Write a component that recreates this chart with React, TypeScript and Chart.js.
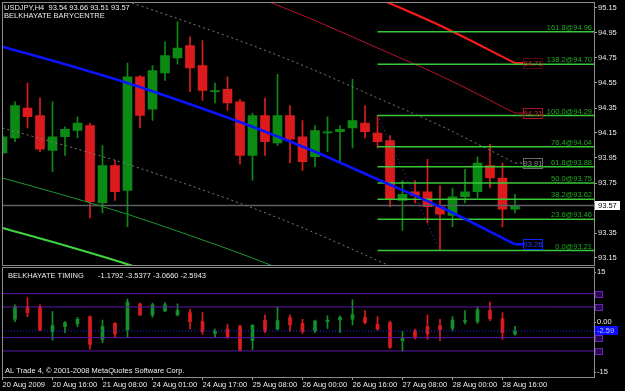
import React, { useEffect, useRef } from "react";
import { Chart, registerables } from "chart.js";
Chart.register(...registerables);

// ---------------- data ----------------
const SYMBOL = "USDJPY,H4";
const MAIN_TITLE = "BELKHAYATE BARYCENTRE";
const OSC_TITLE = "BELKHAYATE TIMING";
const COPYRIGHT = "AL Trade 4, \u00a9 2001-2008 MetaQuotes Software Corp.";

// H4 candles, bar index 0..41
const OPEN = [93.99, 94.11, 94.35, 94.29, 94.01, 94.12, 94.17, 94.21, 93.59, 93.89, 93.69, 94.6, 94.34, 94.63, 94.75, 94.85, 94.69, 94.48, 94.5, 94.4, 93.97, 94.29, 94.07, 94.29, 94.12, 93.96, 94.15, 94.16, 94.19, 94.23, 94.15, 94.09, 93.61, 93.68, 93.68, 93.56, 93.49, 93.64, 93.68, 93.89, 93.79, 93.54];
const HIGH = [94.14, 94.4, 94.55, 94.43, 94.4, 94.2, 94.28, 94.23, 94.05, 93.93, 94.71, 94.61, 94.69, 94.88, 95.04, 94.92, 94.89, 94.55, 94.6, 94.42, 94.31, 94.43, 94.62, 94.37, 94.25, 94.21, 94.28, 94.21, 94.58, 94.37, 94.29, 94.13, 93.77, 93.77, 93.94, 93.73, 93.71, 93.86, 93.96, 94.06, 93.91, 93.66];
const LOW = [93.97, 94.08, 94.19, 94.0, 93.84, 93.97, 94.11, 93.47, 93.51, 93.61, 93.4, 94.19, 94.25, 94.57, 94.7, 94.48, 94.41, 94.39, 94.33, 93.9, 93.77, 93.97, 94.05, 93.91, 93.85, 93.88, 94.0, 93.91, 94.03, 94.11, 94.03, 93.56, 93.37, 93.59, 93.43, 93.21, 93.4, 93.59, 93.63, 93.71, 93.4, 93.51];
const CLOSE = [94.12, 94.37, 94.28, 94.02, 94.12, 94.18, 94.23, 93.6, 93.89, 93.68, 94.6, 94.29, 94.65, 94.77, 94.83, 94.67, 94.49, 94.49, 94.39, 93.97, 94.29, 94.08, 94.29, 94.1, 93.92, 94.17, 94.16, 94.18, 94.25, 94.16, 94.08, 93.62, 93.66, 93.65, 93.56, 93.5, 93.64, 93.68, 93.91, 93.79, 93.54, 93.57];

// barycentre and its bands, read at these bar indices
const BAND_INDEX = [0, 5, 10, 15, 20, 25, 30, 35, 41];
const BARYCENTRE = [94.84, 94.7, 94.55, 94.38, 94.2, 94.0, 93.78, 93.56, 93.26];
const UPPER_1 = [95.49, 95.35, 95.2, 95.03, 94.85, 94.65, 94.43, 94.21, 93.91];
const LOWER_1 = [94.19, 94.05, 93.9, 93.73, 93.55, 93.35, 93.13, 92.91, 92.61];
const UPPER_2 = [95.89, 95.75, 95.6, 95.43, 95.25, 95.05, 94.83, 94.61, 94.31];
const LOWER_2 = [93.79, 93.65, 93.5, 93.33, 93.15, 92.95, 92.73, 92.51, 92.21];
const UPPER_3 = [96.29, 96.15, 96.0, 95.83, 95.65, 95.45, 95.23, 95.01, 94.71];
const LOWER_3 = [93.39, 93.25, 93.1, 92.93, 92.75, 92.55, 92.33, 92.11, 91.81];

// Fibonacci retracement
const FIB_RATIOS = [0.0, 23.6, 38.2, 50.0, 61.8, 76.4, 100.0, 138.2, 161.8];
const FIB_PRICES = [93.21, 93.46, 93.62, 93.75, 93.88, 94.04, 94.29, 94.7, 94.96];
const FIB_HIGH_INDEX = 30;
const FIB_LOW_INDEX = 35;

const PRICE_TICKS = [95.15, 94.95, 94.75, 94.55, 94.35, 94.15, 93.95, 93.75, 93.55, 93.35, 93.15];

// Belkhayate timing oscillator, bar index 1..41
const OSC_FIRST_INDEX = 1;
const OSC_OPEN = [0.91, 4.73, 4.73, -2.82, -1.31, -0.5, 1.71, -5.14, -0.3, -2.32, 5.44, 2.22, 3.42, 2.22, 2.92, 0.2, -3.32, -2.01, -1.11, -5.54, 0.5, -2.01, 1.41, -0.3, -2.62, 0.2, 0.7, 0.91, 1.51, -0.6, -0.1, -5.54, -2.62, -1.31, -1.01, -1.81, 0.0, 0.2, 3.52, 1.01, -3.54];
const OSC_HIGH = [5.24, 7.45, 5.24, 3.22, 0.2, 1.51, 1.91, 0.7, -0.1, 6.95, 5.74, 5.74, 5.94, 5.54, 3.93, 2.92, -2.01, -0.5, -0.91, -0.81, 2.22, 4.53, 2.22, 0.91, 0.7, 1.91, 1.91, 6.75, 3.52, 1.71, 0.4, -2.82, -2.01, 2.22, 0.91, 1.71, 3.52, 4.53, 6.04, 2.92, -1.18];
const OSC_LOW = [0.2, 1.71, -2.62, -5.34, -3.12, -1.31, -8.06, -6.14, -4.53, -4.63, 2.01, 1.51, 3.22, 1.91, -2.01, -3.63, -4.53, -4.83, -8.66, -8.16, -3.12, -2.32, -2.82, -3.32, -3.12, -1.81, -3.02, -0.81, -0.5, -2.52, -7.85, -8.66, -5.04, -5.14, -5.54, -2.62, -0.5, -0.3, 0.5, -5.14, -3.83];
const OSC_CLOSE = [4.73, 2.92, -2.32, -1.01, -0.1, 0.91, -6.65, -1.31, -3.52, 6.04, 2.22, 5.24, 5.24, 3.52, 0.2, -2.82, -2.62, -4.33, -8.36, -0.81, -2.62, 0.5, -0.81, -2.82, 0.4, 0.6, 1.51, 2.22, -0.1, -2.01, -7.55, -4.83, -4.53, -3.52, -2.32, 0.7, 0.7, 3.73, 1.01, -3.12, -2.59];
const OSC_LEVELS = [8.6, 4.6, -4.6, -8.6];
const OSC_TICKS = [15, 0, -15];
const TIMING_VALUES = [-1.1792, -3.5377, -3.066, -2.5943];

const DATE_TICK_INDEX = [0, 4, 8, 12, 16, 20, 24, 28, 32, 36, 40];
const DATE_LABELS = ["20 Aug 2009", "20 Aug 16:00", "21 Aug 08:00", "24 Aug 01:00", "24 Aug 17:00", "25 Aug 08:00", "26 Aug 00:00", "26 Aug 16:00", "27 Aug 08:00", "28 Aug 00:00", "28 Aug 16:00"];

// ---------------- layout / style ----------------
const X_MIN = -0.04;
const X_MAX = 47.32;
const PRICE_MIN = 93.09;
const PRICE_MAX = 95.198;
const OSC_MIN = -16.41;
const OSC_MAX = 16.44;
const BAND_LABEL_X = 41.65;
const FONT = '"Liberation Sans", Arial, sans-serif';
const FS = 7.5;
const TXT = "#ececec";
const FRAME = "#8c8c8c";
const UP = "#0b8a14";
const DOWN = "#dc1c1c";

function candleSets(xs: number[], o: number[], h: number[], l: number[], c: number[], bodyW: number, up: string, down: string, order: number) {
  const col = o.map((v, i) => (c[i] >= v ? up : down));
  return [
    {
      type: "bar", data: xs.map((x, i) => ({ x, y: [Math.min(o[i], c[i]), Math.max(o[i], c[i])] })),
      backgroundColor: col, barThickness: bodyW, grouped: false, minBarLength: 1, borderWidth: 0, order,
    },
    {
      type: "bar", data: xs.map((x, i) => ({ x, y: [l[i], h[i]] })),
      backgroundColor: col, barThickness: 1, grouped: false, borderWidth: 0, order: order + 1,
    },
  ];
}

function lineSet(xs: number[], ys: number[], color: string, width: number, order: number, dash: number[] = [], smooth = true) {
  return {
    type: "line", data: xs.map((x, i) => ({ x, y: ys[i] })), borderColor: color, borderWidth: width,
    borderDash: dash, pointRadius: 0, fill: false, order,
    cubicInterpolationMode: smooth ? "monotone" : "default", tension: 0,
  };
}

const BANDS = [
  { v: UPPER_3, line: "#ff1a1a", w: 2, dash: [] as number[], box: "#a0102a", txt: "#e02828", boxDash: [1, 1] },
  { v: UPPER_2, line: "#b8102e", w: 1, dash: [] as number[], box: "#b0102a", txt: "#d02030", boxDash: [] as number[] },
  { v: UPPER_1, line: "#7a7a7a", w: 1, dash: [2, 3], box: "#6a6a6a", txt: "#8a8a8a", boxDash: [] as number[] },
  { v: LOWER_1, line: "#7a7a7a", w: 1, dash: [2, 3], box: null, txt: "", boxDash: [] as number[] },
  { v: LOWER_2, line: "#1e9632", w: 1, dash: [] as number[], box: null, txt: "", boxDash: [] as number[] },
  { v: LOWER_3, line: "#3fd43f", w: 2, dash: [] as number[], box: null, txt: "", boxDash: [] as number[] },
];

function curveWithTail(ys: number[], color: string, width: number, order: number, dash: number[] = []) {
  const lastX = BAND_INDEX[BAND_INDEX.length - 1];
  const lastY = ys[ys.length - 1];
  return [
    lineSet(BAND_INDEX, ys, color, width, order, dash, true),
    lineSet([lastX, BAND_LABEL_X], [lastY, lastY], color, width, order, dash, false),
  ];
}

function mainConfig(): any {
  const idx = OPEN.map((_, i) => i);
  const datasets: any[] = [];
  datasets.push(...curveWithTail(BARYCENTRE, "#0a14ff", 2.5, 1));
  FIB_PRICES.forEach((p) => datasets.push(lineSet([FIB_HIGH_INDEX, X_MAX], [p, p], "#38c838", 1.6, 2, [], false)));
  datasets.push(lineSet([FIB_HIGH_INDEX, FIB_LOW_INDEX], [FIB_PRICES[6], FIB_PRICES[0]], "#3548b0", 1, 2, [1, 3], false));
  BANDS.forEach((b) => datasets.push(...curveWithTail(b.v, b.line, b.w, 3, b.dash)));
  const last = CLOSE[CLOSE.length - 1];
  datasets.push(lineSet([X_MIN, X_MAX], [last, last], "#5e5e66", 1.5, 4, [], false));
  datasets.push(...candleSets(idx, OPEN, HIGH, LOW, CLOSE, 9, UP, DOWN, 5));

  const overlay = {
    id: "mainOverlay",
    afterDraw(chart: any) {
      const { ctx, chartArea: a, scales } = chart;
      const x = scales.x, y = scales.y;
      ctx.save();
      ctx.strokeStyle = FRAME; ctx.lineWidth = 1;
      const L = Math.floor(a.left) + 0.5, T = Math.floor(a.top) + 0.5, R = Math.floor(a.right) + 0.5, B = Math.floor(a.bottom) + 0.5;
      ctx.strokeRect(L, T, R - L, B - T);
      ctx.font = `${FS}px ${FONT}`;
      // fib labels
      ctx.fillStyle = "#22a822"; ctx.textAlign = "right"; ctx.textBaseline = "alphabetic";
      FIB_PRICES.forEach((p, i) => {
        ctx.fillText(`${FIB_RATIOS[i].toFixed(1)}@${p.toFixed(2)}`, a.right - 2, y.getPixelForValue(p) - 2);
      });
      // band value boxes
      const bx = x.getPixelForValue(BAND_LABEL_X);
      const boxes = [
        ...BANDS.filter((b) => b.box).map((b) => ({ v: b.v[b.v.length - 1], box: b.box as string, txt: b.txt, dash: b.boxDash })),
        { v: BARYCENTRE[BARYCENTRE.length - 1], box: "#1020ff", txt: "#2a3aff", dash: [] as number[] },
      ];
      ctx.textAlign = "center"; ctx.textBaseline = "middle";
      boxes.forEach((b) => {
        const py = y.getPixelForValue(b.v);
        const top = Math.round(py - 5) + 0.5;
        ctx.setLineDash(b.dash); ctx.strokeStyle = b.box; ctx.lineWidth = 1;
        ctx.strokeRect(Math.round(bx) + 0.5, top, 19, 10);
        ctx.setLineDash([]);
        ctx.fillStyle = b.txt;
        ctx.fillText(b.v.toFixed(2), Math.round(bx) + 10, py + 0.5);
      });
      // current price box
      const lp = CLOSE[CLOSE.length - 1];
      const py = y.getPixelForValue(lp);
      ctx.fillStyle = "#ffffff";
      ctx.fillRect(Math.round(a.right) + 1, Math.round(py - 4.5), 25, 9);
      ctx.fillStyle = "#000000"; ctx.textAlign = "left";
      ctx.fillText(lp.toFixed(2), Math.round(a.right) + 4, py + 0.5);
      // header
      const n = OPEN.length - 1;
      ctx.fillStyle = TXT; ctx.textAlign = "left"; ctx.textBaseline = "middle";
      ctx.fillText(`${SYMBOL}  ${OPEN[n].toFixed(2)} ${HIGH[n].toFixed(2)} ${LOW[n].toFixed(2)} ${CLOSE[n].toFixed(2)}`, 4, 7.5);
      ctx.fillText(MAIN_TITLE, 4, 16);
      ctx.restore();
    },
  };

  return {
    type: "line",
    data: { datasets },
    plugins: [overlay],
    options: {
      responsive: false, animation: false, devicePixelRatio: 1,
      layout: { padding: { left: 2, top: 2, right: 0, bottom: 0.5 } },
      plugins: { legend: { display: false }, tooltip: { enabled: false } },
      scales: {
        x: { type: "linear", min: X_MIN, max: X_MAX, display: false, offset: false },
        y: {
          type: "linear", position: "right", min: PRICE_MIN, max: PRICE_MAX,
          afterBuildTicks: (s: any) => { s.ticks = PRICE_TICKS.map((v) => ({ value: v })); },
          afterFit: (s: any) => { s.width = 31; s.paddingTop = 0; s.paddingBottom = 0; },
          ticks: { color: TXT, font: { family: FONT, size: FS }, padding: 1, callback: (v: any) => Number(v).toFixed(2) },
          grid: { drawOnChartArea: false, tickLength: 3, color: "#a0a0a0" },
          border: { display: false },
        },
      },
    },
  };
}

function oscConfig(): any {
  const idx = OSC_OPEN.map((_, i) => OSC_FIRST_INDEX + i);
  const datasets: any[] = [];
  const cur = OSC_CLOSE[OSC_CLOSE.length - 1];
  datasets.push(lineSet([X_MIN, X_MAX], [cur, cur], "#1a28ff", 1, 1, [1, 2], false));
  OSC_LEVELS.forEach((v) => datasets.push(lineSet([X_MIN, X_MAX], [v, v], "#5e1aa6", 1, 2, [], false)));
  datasets.push(...candleSets(idx, OSC_OPEN, OSC_HIGH, OSC_LOW, OSC_CLOSE, 3, "#14902a", "#dc1c1c", 5));

  const overlay = {
    id: "oscOverlay",
    afterDraw(chart: any) {
      const { ctx, chartArea: a, scales } = chart;
      const y = scales.y;
      ctx.save();
      ctx.strokeStyle = FRAME; ctx.lineWidth = 1;
      const L = Math.floor(a.left) + 0.5, T = Math.floor(a.top) + 0.5, R = Math.floor(a.right) + 0.5, B = Math.floor(a.bottom) + 0.5;
      ctx.strokeRect(L, T, R - L, B - T);
      // level markers on the scale
      OSC_LEVELS.forEach((v) => {
        const py = y.getPixelForValue(v);
        ctx.fillStyle = "#2a0650"; ctx.strokeStyle = "#6a22b0";
        ctx.fillRect(Math.round(a.right) + 1, Math.round(py - 3), 8, 7);
        ctx.strokeRect(Math.round(a.right) + 1.5, Math.round(py - 3) + 0.5, 7, 6);
      });
      ctx.font = `${FS}px ${FONT}`;
      const py = y.getPixelForValue(cur);
      ctx.fillStyle = "#0c0cff";
      ctx.fillRect(Math.round(a.right) + 1, Math.round(py - 4.5), 23, 9);
      ctx.fillStyle = "#c8c8ff"; ctx.textAlign = "left"; ctx.textBaseline = "middle";
      ctx.fillText(cur.toFixed(2), Math.round(a.right) + 3, py + 0.5);
      // titles
      ctx.fillStyle = TXT;
      ctx.fillText(OSC_TITLE, 8, 9.5);
      ctx.fillText(TIMING_VALUES.map((v) => v.toFixed(4)).join(" "), 98, 9.5);
      ctx.fillText(COPYRIGHT, 5, 105);
      ctx.restore();
    },
  };

  return {
    type: "line",
    data: { datasets },
    plugins: [overlay],
    options: {
      responsive: false, animation: false, devicePixelRatio: 1,
      layout: { padding: { left: 2, top: 1.5, right: 0, bottom: 0 } },
      plugins: { legend: { display: false }, tooltip: { enabled: false } },
      scales: {
        x: {
          type: "linear", min: X_MIN, max: X_MAX, offset: false, position: "bottom",
          afterBuildTicks: (s: any) => { s.ticks = DATE_TICK_INDEX.map((v) => ({ value: v })); },
          afterFit: (s: any) => { s.height = 14; s.paddingLeft = 0; s.paddingRight = 0; },
          ticks: {
            align: "start", autoSkip: false, maxRotation: 0, minRotation: 0, padding: 0,
            color: TXT, font: { family: FONT, size: FS }, callback: (_v: any, i: number) => DATE_LABELS[i],
          },
          grid: { drawOnChartArea: false, tickLength: 3, color: "#a0a0a0", offset: false },
          border: { display: false },
        },
        y: {
          type: "linear", position: "right", min: OSC_MIN, max: OSC_MAX,
          afterBuildTicks: (s: any) => { s.ticks = OSC_TICKS.map((v) => ({ value: v })); },
          afterFit: (s: any) => { s.width = 31; s.paddingTop = 0; s.paddingBottom = 0; },
          ticks: { color: TXT, font: { family: FONT, size: FS }, padding: 1, callback: (v: any) => (Number(v) === 0 ? "0.00" : String(v)) },
          grid: { drawOnChartArea: false, tickLength: 2, color: "#a0a0a0" },
          border: { display: false },
        },
      },
    },
  };
}

export default function App() {
  const mainRef = useRef<HTMLCanvasElement>(null);
  const oscRef = useRef<HTMLCanvasElement>(null);
  useEffect(() => {
    const c1 = new Chart(mainRef.current as HTMLCanvasElement, mainConfig());
    const c2 = new Chart(oscRef.current as HTMLCanvasElement, oscConfig());
    return () => { c1.destroy(); c2.destroy(); };
  }, []);
  return (
    <div style={{ position: "fixed", left: 0, top: 0, width: 625, height: 391, background: "#000", overflow: "hidden" }}>
      <canvas ref={mainRef} width={625} height={266} style={{ position: "absolute", left: 0, top: 0, width: 625, height: 266 }} />
      <canvas ref={oscRef} width={625} height={125} style={{ position: "absolute", left: 0, top: 266, width: 625, height: 125 }} />
    </div>
  );
}
